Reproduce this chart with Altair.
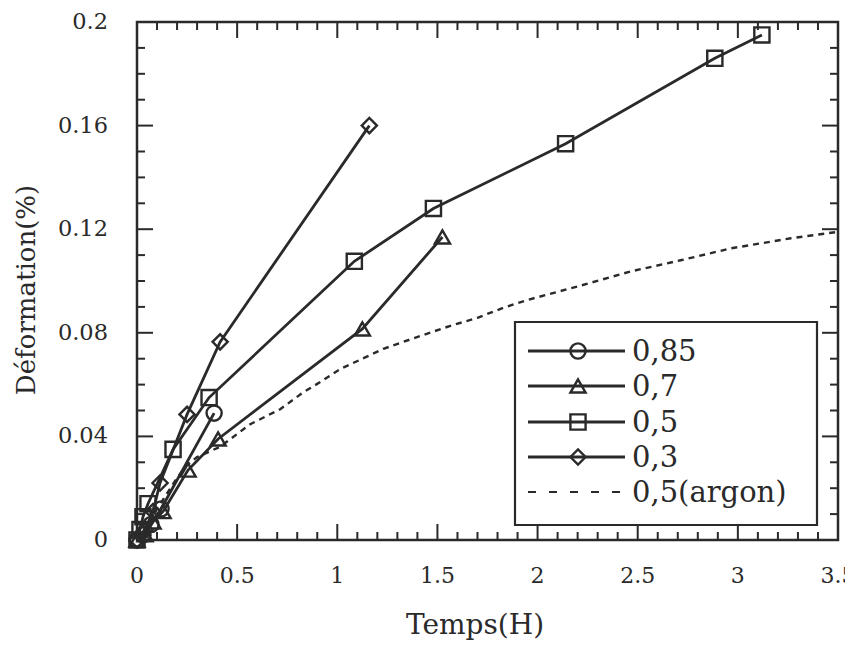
import altair as alt
import pandas as pd

# ---- data ----
series_names = ["0,85", "0,7", "0,5", "0,3", "0,5(argon)"]

t_085 = [0.0, 0.03, 0.07, 0.12, 0.385]
e_085 = [0.0, 0.002, 0.006, 0.012, 0.049]

t_07 = [0.0, 0.04, 0.08, 0.13, 0.255, 0.405, 1.125, 1.525]
e_07 = [0.0, 0.002, 0.007, 0.011, 0.027, 0.039, 0.0815, 0.117]

t_05 = [0.0, 0.015, 0.03, 0.055, 0.18, 0.36, 1.085, 1.48, 2.14, 2.885, 3.12]
e_05 = [0.0, 0.004, 0.009, 0.014, 0.035, 0.055, 0.1076, 0.128, 0.153, 0.186, 0.195]

t_03 = [0.0, 0.04, 0.08, 0.115, 0.25, 0.415, 1.16]
e_03 = [0.0, 0.004, 0.011, 0.022, 0.0485, 0.0765, 0.16]

t_ar = [0.0, 0.05, 0.1, 0.15, 0.2, 0.25, 0.3, 0.415, 0.565, 0.715, 0.83, 0.915,
        1.015, 1.23, 1.415, 1.565, 1.7, 1.83, 1.955, 2.2, 2.465, 2.715, 2.965,
        3.265, 3.5]
e_ar = [0.0, 0.005, 0.012, 0.018, 0.024, 0.029, 0.032, 0.036, 0.0447, 0.0505,
        0.057, 0.061, 0.066, 0.0738, 0.0788, 0.0827, 0.0858, 0.0897, 0.0928,
        0.0979, 0.1037, 0.108, 0.1126, 0.1165, 0.119]

x_ticks = [0, 0.5, 1, 1.5, 2, 2.5, 3, 3.5]
x_labels = ["0", "0.5", "1", "1.5", "2", "2.5", "3", "3.5"]
y_ticks = [0, 0.04, 0.08, 0.12, 0.16, 0.2]
y_labels = ["0", "0.04", "0.08", "0.12", "0.16", "0.2"]
x_minor = [0.1, 0.2, 0.3, 0.4, 0.6, 0.7, 0.8, 0.9, 1.1, 1.2, 1.3, 1.4, 1.6, 1.7,
           1.8, 1.9, 2.1, 2.2, 2.3, 2.4, 2.6, 2.7, 2.8, 2.9, 3.1, 3.2, 3.3, 3.4]
y_minor = [0.01, 0.02, 0.03, 0.05, 0.06, 0.07, 0.09, 0.10, 0.11, 0.13, 0.14,
           0.15, 0.17, 0.18, 0.19]
x_title = "Temps(H)"
y_title = "Déformation(%)"

marker_series = [("0,85", t_085, e_085, "circle"),
                 ("0,7", t_07, e_07, "triangle-up"),
                 ("0,5", t_05, e_05, "square"),
                 ("0,3", t_03, e_03, "diamond")]

rows = []
for name, ts, es, shp in marker_series:
    for i, (t, e) in enumerate(zip(ts, es)):
        rows.append({"serie": name, "t": t, "e": e, "o": i})
df = pd.DataFrame(rows)
df_ar = pd.DataFrame({"t": t_ar, "e": e_ar, "o": list(range(len(t_ar)))})
df_xl = pd.DataFrame({"v": x_ticks, "lab": x_labels})
df_yl = pd.DataFrame({"v": y_ticks, "lab": y_labels})

# ---- styling ----
W, H = 701, 518
FONT = "DejaVu Serif"
INK = "#2a2a2a"
MSIZE = 230

xs = alt.Scale(domain=[0, 3.5], nice=False, zero=False)
ys = alt.Scale(domain=[0, 0.2], nice=False, zero=False)
shape_scale = alt.Scale(domain=[s[0] for s in marker_series],
                        range=[s[3] for s in marker_series])

lines = alt.Chart(df).mark_line(color=INK, strokeWidth=2.8).encode(
    x=alt.X("t:Q", scale=xs, axis=None),
    y=alt.Y("e:Q", scale=ys, axis=None),
    detail="serie:N",
    order="o:Q",
)
points = alt.Chart(df).mark_point(filled=False, color=INK, opacity=1,
                                  strokeWidth=2.4, size=MSIZE).encode(
    x=alt.X("t:Q", scale=xs, axis=None),
    y=alt.Y("e:Q", scale=ys, axis=None),
    shape=alt.Shape("serie:N", scale=shape_scale, legend=None),
)
argon = alt.Chart(df_ar).mark_line(color=INK, strokeWidth=2.4, strokeDash=[6, 5]).encode(
    x=alt.X("t:Q", scale=xs, axis=None),
    y=alt.Y("e:Q", scale=ys, axis=None),
    order="o:Q",
)

# ---- axis labels and titles (positioned through the scales) ----
x_lab = alt.Chart(df_xl).mark_text(font=FONT, fontSize=22, color=INK, align="center",
                                   baseline="top").encode(
    x=alt.X("v:Q", scale=xs, axis=None), y=alt.value(H + 26), text="lab:N")
y_lab = alt.Chart(df_yl).mark_text(font=FONT, fontSize=22.5, color=INK, align="right",
                                   baseline="middle").encode(
    y=alt.Y("v:Q", scale=ys, axis=None), x=alt.value(-29), text="lab:N")
one = alt.Data(values=[{}])
x_tt = alt.Chart(one).mark_text(text=x_title, font=FONT, fontSize=28, color=INK,
                                align="center", baseline="alphabetic").encode(
    x=alt.value(338), y=alt.value(H + 94))
y_tt = alt.Chart(one).mark_text(text=y_title, font=FONT, fontSize=26, color=INK,
                                align="center", baseline="alphabetic", angle=270).encode(
    x=alt.value(-102), y=alt.value(268))

# ---- inward ticks on all four sides (plain tick-position tables, no transforms) ----
def x_ticks_layer(vals, L, top):
    y0, y1 = (0, L) if top else (H, H - L)
    return alt.Chart(pd.DataFrame({"v": vals})).mark_rule(
        color=INK, strokeWidth=2, opacity=1).encode(
        x=alt.X("v:Q", scale=xs, axis=None),
        y=alt.value(y0), y2=alt.value(y1))

def y_ticks_layer(vals, L, right):
    x0, x1 = (W, W - L) if right else (0, L)
    return alt.Chart(pd.DataFrame({"v": vals})).mark_rule(
        color=INK, strokeWidth=2, opacity=1).encode(
        y=alt.Y("v:Q", scale=ys, axis=None),
        x=alt.value(x0), x2=alt.value(x1))

tick_layers = []
for side in (False, True):
    tick_layers.append(x_ticks_layer(x_ticks, 16, side))
    tick_layers.append(x_ticks_layer(x_minor, 8, side))
    tick_layers.append(y_ticks_layer(y_ticks, 16, side))
    tick_layers.append(y_ticks_layer(y_minor, 8, side))

# ---- legend box ----
box = alt.Chart(one).mark_rect(fill="white", stroke=INK, strokeWidth=2.2).encode(
    x=alt.value(378), x2=alt.value(680), y=alt.value(300), y2=alt.value(503))

leg_layers = [box]
row_y = [329, 364, 400, 435, 470]
for k, name in enumerate(series_names):
    yy = row_y[k]
    if k < 4:
        leg_layers.append(alt.Chart(one).mark_rule(color=INK, strokeWidth=2.8).encode(
            x=alt.value(391), x2=alt.value(488), y=alt.value(yy)))
        leg_layers.append(alt.Chart(one).mark_point(
            filled=False, color=INK, opacity=1, strokeWidth=2.4, size=MSIZE,
            shape=marker_series[k][3]).encode(x=alt.value(441), y=alt.value(yy)))
    else:
        leg_layers.append(alt.Chart(one).mark_rule(color=INK, strokeWidth=2.2,
                                                   strokeDash=[8, 13]).encode(
            x=alt.value(391), x2=alt.value(488), y=alt.value(yy)))
    leg_layers.append(alt.Chart(one).mark_text(
        text=name, font=FONT, fontSize=29, color=INK, align="left",
        baseline="middle").encode(x=alt.value(495), y=alt.value(yy + 1)))

chart = alt.layer(lines, argon, points, x_lab, y_lab, x_tt, y_tt,
                  *leg_layers, *tick_layers).properties(
    width=W, height=H,
    autosize=alt.AutoSizeParams(type="none"),
    padding={"left": 129, "top": 14, "right": 7, "bottom": 100},
    background="white",
).configure_view(stroke=INK, strokeWidth=2.5)

chart.save("out.html", embed_options={"renderer": "svg", "actions": False})
